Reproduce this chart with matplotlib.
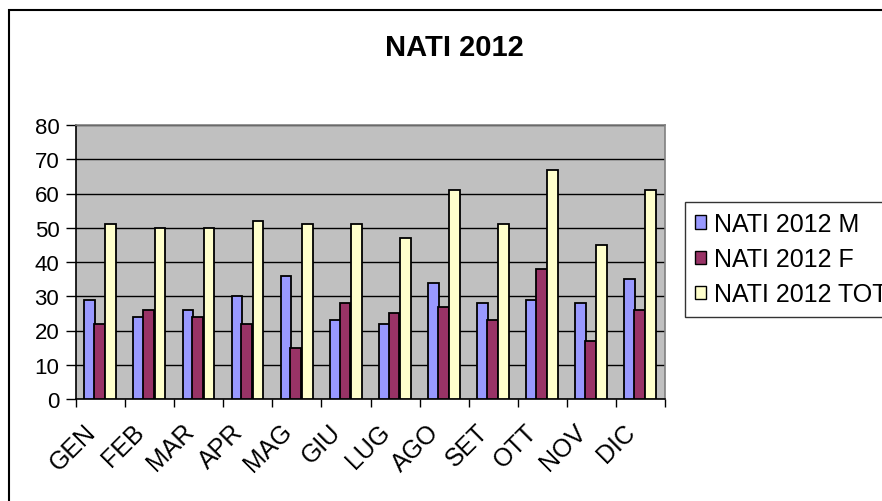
import matplotlib
matplotlib.use("Agg")
import matplotlib.pyplot as plt
import numpy as np
from matplotlib.patches import Rectangle
from matplotlib.transforms import ScaledTranslation

plt.rcParams['font.family'] = ['Liberation Sans', 'DejaVu Sans']

months = ["GEN", "FEB", "MAR", "APR", "MAG", "GIU", "LUG", "AGO", "SET", "OTT", "NOV", "DIC"]
nati_m = [29, 24, 26, 30, 36, 23, 22, 34, 28, 29, 28, 35]
nati_f = [22, 26, 24, 22, 15, 28, 25, 27, 23, 38, 17, 26]
nati_tot = [51, 50, 50, 52, 51, 51, 47, 61, 51, 67, 45, 61]
series_names = ["NATI 2012 M", "NATI 2012 F", "NATI 2012 TOT"]
colors = ["#9999FF", "#993366", "#FFFFCC"]
title = "NATI 2012"

W, H = 882, 502
fig = plt.figure(figsize=(W / 100, H / 100), dpi=100)
ax = fig.add_axes([76 / W, 1 - 400 / H, (665 - 76) / W, (400 - 126) / H])
ax.set_facecolor("#C0C0C0")

x = np.arange(len(months))
bw = 0.22
offsets = [-0.22, -0.02, 0.21]
for vals, off, c, name in zip([nati_m, nati_f, nati_tot], offsets, colors, series_names):
    ax.bar(x + off, vals, width=bw, color=c, edgecolor="black", linewidth=1.3, label=name, zorder=3)

ax.set_xlim(-0.5, len(months) - 0.5)
ax.set_ylim(0, 80)
ax.set_yticks(np.arange(0, 81, 10))
ax.yaxis.grid(True, color="black", linewidth=1.0, zorder=1)
ax.set_axisbelow(True)

ax.set_xticks(x)
ax.set_xticklabels(months, rotation=45, ha="right", va="baseline", rotation_mode="anchor", fontsize=18)
ax.tick_params(axis="x", length=0, pad=24)
for lbl in ax.get_xticklabels():
    lbl.set_transform(lbl.get_transform() + ScaledTranslation(-4 / 100, 0, fig.dpi_scale_trans))
ax.set_xticks(np.arange(-0.5, len(months)), minor=True)
ax.tick_params(axis="x", which="minor", length=6, direction="out", width=1)
ax.tick_params(axis="y", length=7, direction="out", width=1, labelsize=16, pad=5)

for s in ["top", "right"]:
    ax.spines[s].set_color("#808080")
    ax.spines[s].set_linewidth(1.2)
for s in ["left", "bottom"]:
    ax.spines[s].set_color("black")
    ax.spines[s].set_linewidth(1.2)

fig.text(454 / W, 1 - 48 / H, title, ha="center", va="center",
         fontsize=21, fontweight="bold")

leg = fig.legend(loc="upper left", bbox_to_anchor=(685 / W, 1 - 203 / H), frameon=True,
                 fontsize=18, handlelength=0.45, handleheight=0.45, handletextpad=0.3,
                 borderpad=0.4, labelspacing=0.45, fancybox=False, borderaxespad=0)
leg.get_frame().set_edgecolor("black")
leg.get_frame().set_linewidth(1.0)
for h in leg.legend_handles:
    h.set_linewidth(1.0)

fig.patches.append(Rectangle((9 / W, -0.1), 1.2, 1 - 11 / H + 0.1, transform=fig.transFigure,
                             fill=False, edgecolor="black", linewidth=1.5))

fig.savefig("out.png", dpi=100)
